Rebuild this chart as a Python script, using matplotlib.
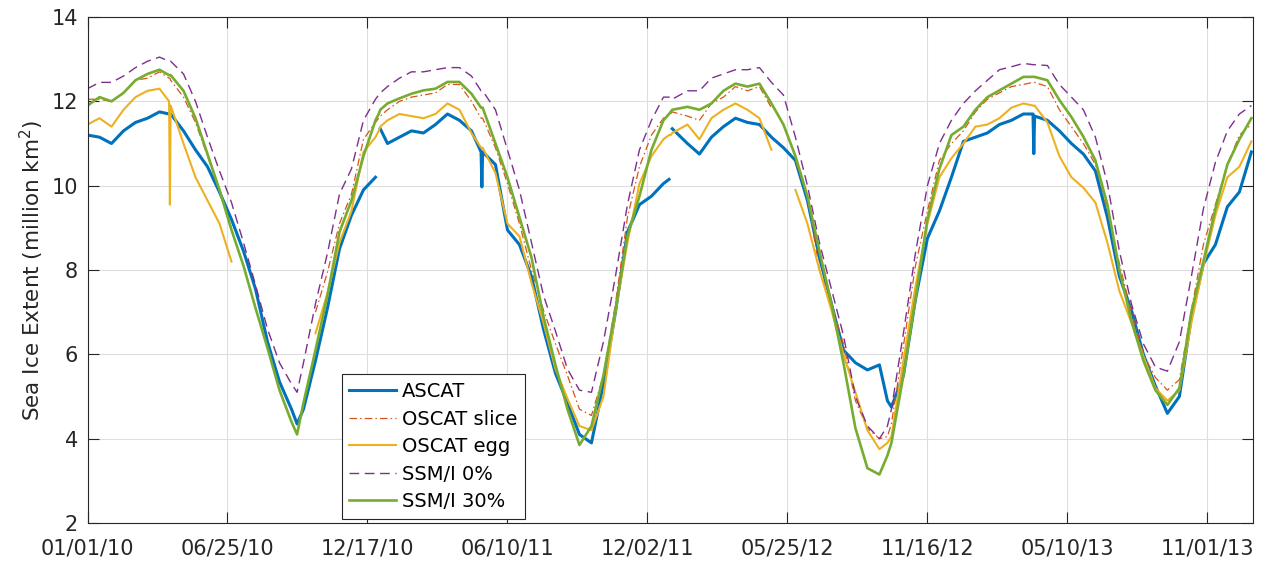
import numpy as np
import pandas as pd
import matplotlib
matplotlib.use("Agg")
from matplotlib import pyplot as plt

nan = np.nan

# days since 01/01/2010
days = [0, 15, 30, 45, 60, 75, 90, 102, 103, 104, 120, 135, 150, 165, 180,
        195, 210, 225, 240, 255, 262, 270, 285, 300, 315, 330, 345, 360, 364, 366,
        375, 390, 405, 420, 435, 450, 465, 480, 492, 493, 494, 510, 525, 540, 555,
        570, 585, 600, 615, 630, 645, 660, 675, 690, 705, 720, 727, 729, 731, 750,
        765, 780, 795, 810, 825, 840, 855, 870, 885, 900, 915, 930, 945, 960, 975,
        990, 1000, 1005, 1020, 1035, 1050, 1065, 1080, 1095, 1110, 1125, 1140, 1155, 1170, 1182,
        1183, 1184, 1200, 1215, 1230, 1245, 1260, 1275, 1290, 1305, 1320, 1335, 1350, 1365, 1380,
        1395, 1410, 1425, 1440, 1455]

ascat = [11.2, 11.15, 11.0, 11.3, 11.5, 11.6, 11.75, 11.7, 11.7, 11.7, 11.3, 10.85, 10.45, 9.85, 9.2,
         8.45, 7.55, 6.3, 5.35, 4.7, 4.35, 4.7, 5.85, 7.1, 8.5, 9.3, 9.9, 10.2, nan, 11.35,
         11.0, 11.15, 11.3, 11.25, 11.45, 11.7, 11.55, 11.3, 10.8, 9.97, 10.8, 10.5, 8.95, 8.6, 7.85,
         6.6, 5.55, 4.85, 4.1, 3.9, 5.3, 7.0, 8.9, 9.55, 9.75, 10.05, 10.15, nan, 11.35, 11.0,
         10.75, 11.15, 11.4, 11.6, 11.5, 11.45, 11.15, 10.9, 10.6, 9.65, 8.3, 7.2, 6.1, 5.8, 5.63,
         5.75, 4.9, 4.75, 5.5, 7.3, 8.75, 9.4, 10.2, 11.05, 11.15, 11.25, 11.45, 11.55, 11.7, 11.7,
         10.76, 11.65, 11.55, 11.3, 11.0, 10.75, 10.35, 9.25, 7.85, 7.05, 6.0, 5.25, 4.6, 5.0, 6.9,
         8.15, 8.6, 9.5, 9.85, 10.8]

oscat_slice = [12.05, 12.05, 12.0, 12.2, 12.5, 12.55, 12.7, 12.55, 12.55, 12.5, 12.1, 11.5, 10.7, 9.9, 9.0,
               nan, nan, nan, nan, nan, nan, nan, 7.0, 7.95, 9.1, 9.8, 11.1, 11.5, 11.6, 11.65,
               11.8, 12.0, 12.1, 12.15, 12.2, 12.4, 12.4, 12.0, 11.6, 11.6, 11.6, 10.9, 10.05, 9.1, 8.0,
               7.05, 6.25, 5.5, 4.7, 4.55, 5.5, 7.2, 9.25, 10.45, 11.2, 11.6, 11.7, 11.7, 11.75, 11.65,
               11.55, 11.95, 12.1, 12.35, 12.25, 12.35, 11.85, nan, 10.6, 9.75, 8.0, 7.2, 6.25, 4.9, 4.25,
               4.0, 4.05, 4.35, 6.2, 8.1, 9.4, 10.6, 11.0, 11.3, 11.75, 12.05, 12.2, 12.35, 12.4, 12.45,
               12.45, 12.45, 12.35, 11.8, 11.4, 11.0, 10.5, 9.4, 8.15, 7.0, 6.0, 5.45, 5.15, 5.4, 7.05,
               8.6, 9.55, 10.5, 11.2, 11.45]

oscat_egg = [11.45, 11.6, 11.4, 11.8, 12.1, 12.25, 12.3, 12.0, 9.55, 11.9, 11.0, 10.2, 9.65, 9.1, 8.2,
             nan, nan, nan, nan, nan, nan, nan, 6.5, 7.45, 8.65, 9.4, 10.8, 11.15, 11.3, 11.4,
             11.55, 11.7, 11.65, 11.6, 11.7, 11.95, 11.8, 11.25, 10.9, 10.9, 10.9, 10.3, 9.1, 8.8, 7.7,
             6.75, 5.65, 4.95, 4.3, 4.2, 5.0, 7.0, 8.65, 10.05, 10.7, 11.1, 11.2, 11.2, 11.25, 11.45,
             11.1, 11.6, 11.8, 11.95, 11.8, 11.6, 10.85, nan, 9.9, 9.1, 8.0, 7.05, 6.0, 5.1, 4.2,
             3.75, 3.9, 4.05, 5.85, 7.6, 9.1, 10.2, 10.65, 11.0, 11.4, 11.45, 11.6, 11.85, 11.95, 11.9,
             11.9, 11.9, 11.5, 10.7, 10.2, 9.95, 9.6, 8.65, 7.5, 6.75, 5.95, 5.2, 4.9, 5.15, 6.75,
             8.1, 9.3, 10.2, 10.45, 11.05]

ssmi_0 = [12.3, 12.45, 12.45, 12.6, 12.8, 12.95, 13.05, 12.95, 12.95, 12.95, 12.65, 12.0, 11.15, 10.35, 9.6,
          8.65, 7.65, 6.6, 5.8, 5.3, 5.1, 5.8, 7.2, 8.4, 9.8, 10.4, 11.55, 12.05, 12.15, 12.2,
          12.35, 12.55, 12.7, 12.7, 12.75, 12.8, 12.8, 12.6, 12.25, 12.25, 12.25, 11.8, 10.85, 9.9, 8.65,
          7.4, 6.55, 5.65, 5.15, 5.1, 6.3, 7.85, 9.55, 10.85, 11.55, 12.1, 12.1, 12.1, 12.05, 12.25,
          12.25, 12.55, 12.65, 12.75, 12.75, 12.8, 12.45, 12.15, 11.15, 10.0, 8.65, 7.55, 6.45, 5.0, 4.3,
          4.0, 4.3, 4.7, 6.5, 8.4, 10.0, 11.0, 11.55, 11.95, 12.25, 12.5, 12.75, 12.82, 12.9, 12.87,
          12.87, 12.87, 12.85, 12.4, 12.1, 11.8, 11.15, 10.05, 8.45, 7.2, 6.25, 5.7, 5.6, 6.3, 7.85,
          9.45, 10.55, 11.3, 11.7, 11.9]

ssmi_30 = [11.9, 12.1, 12.0, 12.2, 12.5, 12.65, 12.75, 12.62, 12.62, 12.62, 12.25, 11.6, 10.75, 9.9, 8.95,
           8.1, 7.1, 6.15, 5.15, 4.4, 4.1, 4.85, 6.1, 7.4, 8.9, 9.65, 10.7, 11.55, 11.7, 11.8,
           11.95, 12.07, 12.18, 12.26, 12.3, 12.46, 12.46, 12.18, 11.85, 11.85, 11.85, 11.0, 10.2, 9.25, 8.3,
           6.9, 5.75, 4.7, 3.85, 4.3, 5.5, 7.05, 8.8, 9.75, 10.85, 11.55, 11.7, 11.75, 11.8, 11.87,
           11.8, 11.95, 12.25, 12.42, 12.35, 12.42, 11.95, 11.45, 10.7, 9.75, 8.45, 7.2, 5.8, 4.25, 3.3,
           3.15, 3.6, 3.9, 5.5, 7.3, 9.2, 10.4, 11.2, 11.4, 11.8, 12.1, 12.26, 12.42, 12.58, 12.58,
           12.58, 12.58, 12.5, 12.03, 11.63, 11.16, 10.6, 9.55, 8.0, 6.8, 5.85, 5.15, 4.8, 5.2, 7.0,
           8.2, 9.45, 10.5, 11.1, 11.6]

start = pd.Timestamp("2010-01-01")
dates = start + pd.to_timedelta(days, unit="D")

tick_dates = [start + pd.Timedelta(days=175 * k) for k in range(9)]
tick_labels = [t.strftime("%m/%d/%y") for t in tick_dates]

dark = "#262626"

fig = plt.figure(figsize=(12.7, 5.67), dpi=100)
ax = fig.add_axes([0.0689, 0.0776, 0.9177, 0.8924])

ax.plot(dates, ascat, color="#0072BD", lw=2.2, label="ASCAT")
ax.plot(dates, oscat_slice, color="#D95319", lw=0.9, dashes=(6, 2.5, 1.2, 2.5), label="OSCAT slice")
ax.plot(dates, oscat_egg, color="#EDB120", lw=1.5, label="OSCAT egg")
ax.plot(dates, ssmi_0, color="#7E2F8E", lw=1.0, dashes=(7, 4), label="SSM/I 0%")
ax.plot(dates, ssmi_30, color="#77AC30", lw=1.9, label="SSM/I 30%")

ax.set_xlim(start, start + pd.Timedelta(days=1457))
ax.set_ylim(2, 14)
ax.set_xticks(tick_dates)
ax.set_xticklabels(tick_labels)
ax.set_yticks(range(2, 15, 2))

ax.grid(True, color="#dedede", lw=0.8)
ax.set_axisbelow(True)
ax.tick_params(direction="in", top=True, right=True, length=8, width=0.8,
               labelsize=15, colors=dark)
ax.tick_params(axis="x", pad=11)
ax.tick_params(axis="y", pad=7)
for s in ax.spines.values():
    s.set_color(dark)
    s.set_linewidth(0.8)

ax.set_ylabel("Sea Ice Extent (million km$^2$)", fontsize=15.5, color=dark)
ax.yaxis.set_label_coords(-0.036, 0.5)

leg = ax.legend(loc="lower left", bbox_to_anchor=(0.218, 0.008), borderaxespad=0,
                fontsize=14, fancybox=False, framealpha=1, edgecolor=dark,
                handlelength=2.4, handletextpad=0.3, labelspacing=0.44, borderpad=0.4)
leg.get_frame().set_linewidth(0.8)

fig.savefig("out.png", dpi=100)
